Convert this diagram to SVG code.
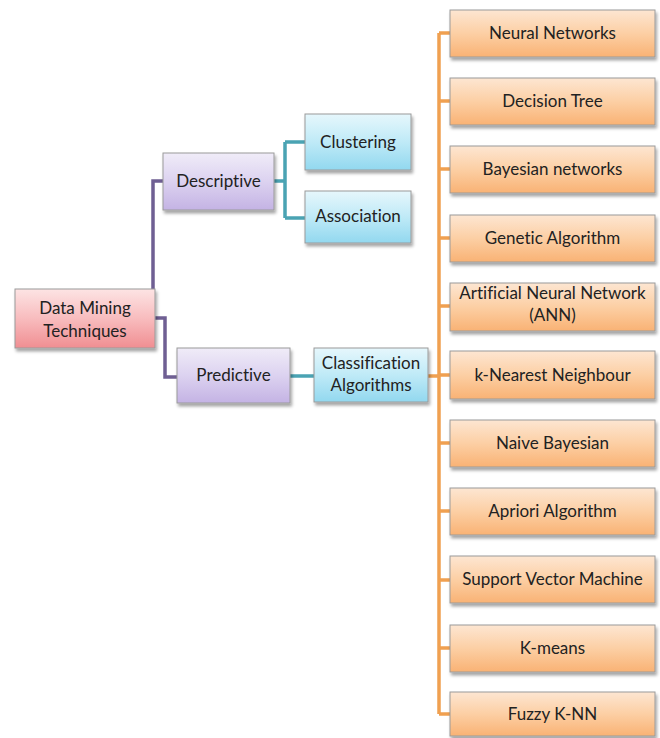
<svg xmlns="http://www.w3.org/2000/svg" width="660" height="738" viewBox="0 0 660 738">
<defs>
<linearGradient id="gOr" x1="0" y1="0" x2="0" y2="1"><stop offset="0" stop-color="#fde6d2"/><stop offset="0.5" stop-color="#fccfa4"/><stop offset="1" stop-color="#f9b274"/></linearGradient>
<linearGradient id="gPu" x1="0" y1="0" x2="0" y2="1"><stop offset="0" stop-color="#f0ecf8"/><stop offset="0.5" stop-color="#dcd2f0"/><stop offset="1" stop-color="#c4b3e4"/></linearGradient>
<linearGradient id="gBl" x1="0" y1="0" x2="0" y2="1"><stop offset="0" stop-color="#e6f7fc"/><stop offset="0.5" stop-color="#bfeaf7"/><stop offset="1" stop-color="#92d8ef"/></linearGradient>
<linearGradient id="gRd" x1="0" y1="0" x2="0" y2="1"><stop offset="0" stop-color="#fde4e4"/><stop offset="0.5" stop-color="#f8bcbe"/><stop offset="1" stop-color="#f08e92"/></linearGradient>
<filter id="sh" x="-10%" y="-10%" width="130%" height="140%"><feDropShadow dx="1.5" dy="3" stdDeviation="1.5" flood-color="#000" flood-opacity="0.35"/></filter>
</defs>
<style>
.b{stroke:#9a9a9a;stroke-width:1;filter:url(#sh)}
.or{fill:url(#gOr)}.pu{fill:url(#gPu)}.bl{fill:url(#gBl)}.rd{fill:url(#gRd)}
text{font-family:Lato,"Open Sans","Liberation Sans",sans-serif;font-size:17px;fill:#222222;text-anchor:middle;font-variant-ligatures:none}
.c{fill:none;stroke-width:3.5}
.cp{stroke:#6f5f93}.ct{stroke:#4aa3b3}.co{stroke:#f0a050}
</style>
<rect width="660" height="738" fill="#ffffff"/>
<g id="connectors">
<path class="c cp" d="M153 289 V181 H163"/>
<path class="c cp" d="M155 318 H165 V377 H177"/>
<path class="c ct" d="M274 181 H285 M285 142 V218 M285 142 H305 M285 218 H305"/>
<path class="c ct" d="M290 376 H314"/>
<path class="c co" d="M428 376 H439 M439 33 V714"/>
<path class="c co" d="M439 33 H450 M439 101 H450 M439 169 H450 M439 238 H450 M439 306 H450 M439 375 H450 M439 443 H450 M439 511 H450 M439 580 H450 M439 648 H450 M439 714 H450"/>
</g>
<g id="n-dmt"><rect class="b rd" x="15" y="289" width="140" height="59"/><text x="85" y="314">Data Mining</text><text x="85" y="337">Techniques</text></g>
<g id="n-descriptive"><rect class="b pu" x="163" y="153" width="111" height="57"/><text x="218.5" y="187">Descriptive</text></g>
<g id="n-predictive"><rect class="b pu" x="177" y="348" width="113" height="55"/><text x="233.5" y="381">Predictive</text></g>
<g id="n-clustering"><rect class="b bl" x="305" y="114" width="106" height="56"/><text x="358" y="148">Clustering</text></g>
<g id="n-association"><rect class="b bl" x="305" y="191" width="106" height="52"/><text x="358" y="222">Association</text></g>
<g id="n-classification"><rect class="b bl" x="314" y="348" width="114" height="54"/><text x="371" y="369">Classification</text><text x="371" y="391">Algorithms</text></g>
<g id="n-nn"><rect class="b or" x="450" y="10" width="205" height="47"/><text x="552.5" y="39">Neural Networks</text></g>
<g id="n-dt"><rect class="b or" x="450" y="78" width="205" height="47"/><text x="552.5" y="107">Decision Tree</text></g>
<g id="n-bn"><rect class="b or" x="450" y="146" width="205" height="47"/><text x="552.5" y="175">Bayesian networks</text></g>
<g id="n-ga"><rect class="b or" x="450" y="215" width="205" height="47"/><text x="552.5" y="244">Genetic Algorithm</text></g>
<g id="n-ann"><rect class="b or" x="450" y="283" width="205" height="48"/><text x="552.5" y="299">Artificial Neural Network</text><text x="552.5" y="321">(ANN)</text></g>
<g id="n-knn"><rect class="b or" x="450" y="351" width="205" height="48"/><text x="552.5" y="381">k-Nearest Neighbour</text></g>
<g id="n-nb"><rect class="b or" x="450" y="420" width="205" height="47"/><text x="552.5" y="449">Naive Bayesian</text></g>
<g id="n-apriori"><rect class="b or" x="450" y="488" width="205" height="47"/><text x="552.5" y="517">Apriori Algorithm</text></g>
<g id="n-svm"><rect class="b or" x="450" y="556" width="205" height="47"/><text x="552.5" y="585">Support Vector Machine</text></g>
<g id="n-kmeans"><rect class="b or" x="450" y="625" width="205" height="47"/><text x="552.5" y="654">K-means</text></g>
<g id="n-fuzzy"><rect class="b or" x="450" y="692" width="205" height="44"/><text x="552.5" y="720">Fuzzy K-NN</text></g>
</svg>
